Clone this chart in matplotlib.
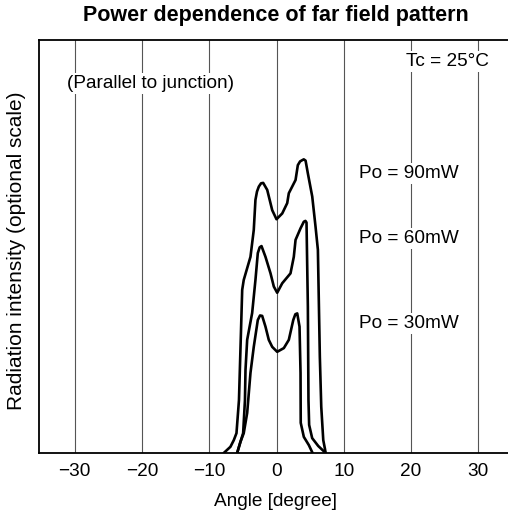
import matplotlib
matplotlib.use("Agg")
import matplotlib.pyplot as plt

plt.rcParams['font.family'] = ['Liberation Sans', 'DejaVu Sans']

# ---- data ----
angle_90 = [-7.84, -6.85, -6.35, -5.95, -5.58, -5.10, -4.87, -3.87, -3.38, -3.13, -2.90, -2.63, -2.30,
            -1.98, -1.38, -0.64, 0.00, 0.85, 1.59, 1.83, 2.83, 3.17, 3.50, 3.82, 4.05, 4.32, 4.66,
            5.31, 5.80, 6.15, 6.44, 6.65, 6.95, 7.20, 7.30]
inten_90 = [0.0, 1.5, 3.1, 4.8, 12.8, 39.5, 41.9, 47.5, 54.0, 61.3, 63.3, 64.5, 65.3,
            65.4, 63.7, 58.8, 56.6, 58.0, 60.5, 62.9, 66.1, 69.7, 70.6, 70.9, 71.1, 70.8, 67.7,
            62.1, 54.8, 49.2, 23.3, 11.2, 3.1, 1.0, 0.0]

angle_60 = [-5.85, -5.36, -4.96, -4.69, -4.61, -4.36, -3.62, -3.13, -2.78, -2.50, -2.23, -1.64, -0.89,
            -0.40, 0.10, 0.85, 2.08, 2.57, 2.83, 3.57, 4.06, 4.30, 4.46, 4.66, 4.75, 4.85, 5.30,
            6.20, 7.30]
inten_60 = [0.0, 2.7, 4.8, 12.8, 20.1, 27.4, 33.9, 41.9, 48.4, 49.8, 50.1, 47.5, 43.5,
            40.3, 38.8, 41.1, 43.5, 47.5, 51.6, 54.4, 56.0, 56.2, 55.8, 35.4, 12.8, 6.8, 3.6,
            1.7, 0.0]

angle_30 = [-5.85, -5.36, -4.87, -4.36, -3.87, -3.38, -2.78, -2.45, -2.13, -1.64, -1.15, -0.64, 0.10,
            1.09, 1.83, 2.49, 2.80, 3.08, 3.42, 3.57, 3.60, 4.06, 4.81, 5.36]
inten_30 = [0.0, 2.7, 4.8, 9.7, 19.4, 25.7, 32.2, 33.3, 33.2, 30.6, 27.4, 25.7, 24.5,
            25.4, 27.4, 32.2, 33.6, 33.8, 30.6, 19.4, 7.3, 3.9, 1.9, 0.0]

x_ticks = [-30, -20, -10, 0, 10, 20, 30]
x_ticklabels = ['\u221230', '\u221220', '\u221210', '0', '10', '20', '30']
power_labels = ['Po = 90mW', 'Po = 60mW', 'Po = 30mW']
power_label_y = [66.6, 50.9, 30.3]

W, H = 508, 515
fig = plt.figure(figsize=(W / 100, H / 100), dpi=100)
ax = fig.add_axes([39 / W, (H - 453) / H, (512 - 39) / W, (453 - 40) / H])
ax.set_xlim(-35.3, 35.0)
ax.set_ylim(0, 100)

for xg in x_ticks:
    ax.axvline(xg, color='#555555', lw=0.8, zorder=1)

for xs, ys in [(angle_90, inten_90), (angle_60, inten_60), (angle_30, inten_30)]:
    ax.plot(xs, ys, color='black', lw=1.9, solid_joinstyle='round', solid_capstyle='round', zorder=3)

ax.set_xticks(x_ticks)
ax.set_xticklabels(x_ticklabels)
ax.set_yticks([])
ax.tick_params(axis='x', length=0, pad=7.5, labelsize=13.7)
for s in ['left', 'bottom', 'top']:
    ax.spines[s].set_linewidth(1.3)
ax.spines['right'].set_visible(False)

ax.set_xlabel('Angle [degree]', fontsize=13.7, labelpad=9)
fig.text(16.7 / W, 1 - 251 / H, 'Radiation intensity (optional scale)', fontsize=15,
         rotation=90, ha='center', va='center')

fig.text(276 / W, 1 - 15 / H, 'Power dependence of far field pattern', fontsize=15.5,
         fontweight='bold', ha='center', va='center')

bbox = dict(facecolor='white', edgecolor='none', pad=1.5)
ax.text(-31.2, 89.4, '(Parallel to junction)', fontsize=13.7, ha='left', va='center', bbox=bbox, zorder=4)
ax.text(19.2, 94.7, 'Tc = 25\u00b0C', fontsize=13.7, ha='left', va='center', bbox=bbox, zorder=4)

for lab, yv in zip(power_labels, power_label_y):
    ax.text(12.3, yv, lab, fontsize=13.7, ha='left', va='baseline', bbox=bbox, zorder=4)

fig.savefig('out.png', dpi=100)
